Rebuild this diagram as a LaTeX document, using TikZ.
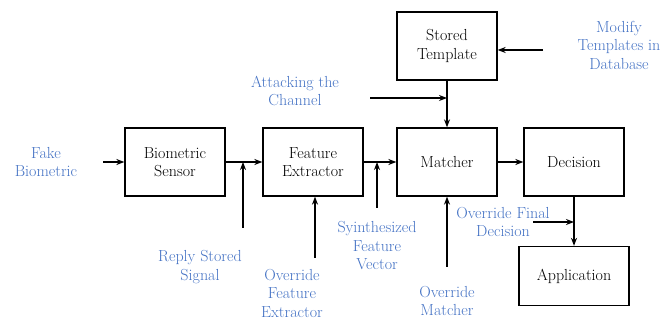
\documentclass[tikz,border=0pt]{standalone}
\usepackage{tikz}
\usetikzlibrary{arrows.meta, positioning, calc}
\definecolor{AttackBlue}{RGB}{68,114,196}

\begin{document}
\begin{tikzpicture}[x=1pt, y=-1pt, >={Stealth[length=8pt,width=6pt]},
    block/.style={draw, line width=1.3pt, minimum width=100pt, minimum height=68pt,
      align=center, font=\fontsize{16}{18.5}\selectfont},
    attack/.style={align=center, text=AttackBlue, font=\fontsize{16}{18.5}\selectfont},
    flow/.style={->, line width=1.6pt}]
  \useasboundingbox (0,0) rectangle (667,320);
  % --- Main chain ---
  \node[block] (sensor) at (175,162) {Biometric\\Sensor};
  \node[block] (extractor) at (313,162) {Feature\\Extractor};
  \node[block] (matcher) at (447,162) {Matcher};
  \node[block] (decision) at (574,162) {Decision};
  \node[block] (template) at (447,46) {Stored\\Template};
  \node[block, minimum width=110pt, minimum height=59pt] (application) at (574,276) {Application};
  % --- Attack points ---
  \node[attack] (fake) at (46,162) {Fake\\Biometric};
  \node[attack] (channel) at (295,91) {Attacking the\\Channel};
  \node[attack] (modify) at (619,45) {Modify\\Templates in\\Database};
  \node[attack] (replay) at (200,267) {Reply Stored\\Signal};
  \node[attack] (ofe) at (292,293) {Override\\Feature\\Extractor};
  \node[attack] (synth) at (377,246) {Syinthesized\\Feature\\Vector};
  \node[attack] (omatch) at (447,301) {Override\\Matcher};
  \node[attack] (ofinal) at (503,222) {Override Final\\Decision};
  % --- Free ends of attack arrows ---
  \coordinate (fakeEnd) at (103,162);
  \coordinate (replayEnd) at (243,228);
  \coordinate (ofeEnd) at (315,258);
  \coordinate (synthEnd) at (377,208);
  \coordinate (omatchEnd) at (447,267);
  \coordinate (channelEnd) at (370,98);
  \coordinate (modifyEnd) at (543,50);
  \coordinate (ofinalEnd) at (533,222);
  % --- Data flow ---
  \draw[flow] (fakeEnd) -- (sensor.west);
  \draw[flow] (sensor) -- (extractor);
  \draw[flow] (extractor) -- (matcher);
  \draw[flow] (matcher) -- (decision);
  \draw[flow] (template) -- (matcher);
  \draw[flow] (decision) -- (application);
  % --- Attacks ---
  \draw[flow] (replayEnd) -- (replayEnd |- sensor.east);
  \draw[flow] (ofeEnd) -- (ofeEnd |- extractor.south);
  \draw[flow] (synthEnd) -- (synthEnd |- extractor.east);
  \draw[flow] (omatchEnd) -- (omatchEnd |- matcher.south);
  \draw[flow] (channelEnd) -- (channelEnd -| template.south);
  \draw[flow] (modifyEnd) -- (modifyEnd -| template.east);
  \draw[flow] (ofinalEnd) -- (ofinalEnd -| decision.south);
\end{tikzpicture}
\end{document}
